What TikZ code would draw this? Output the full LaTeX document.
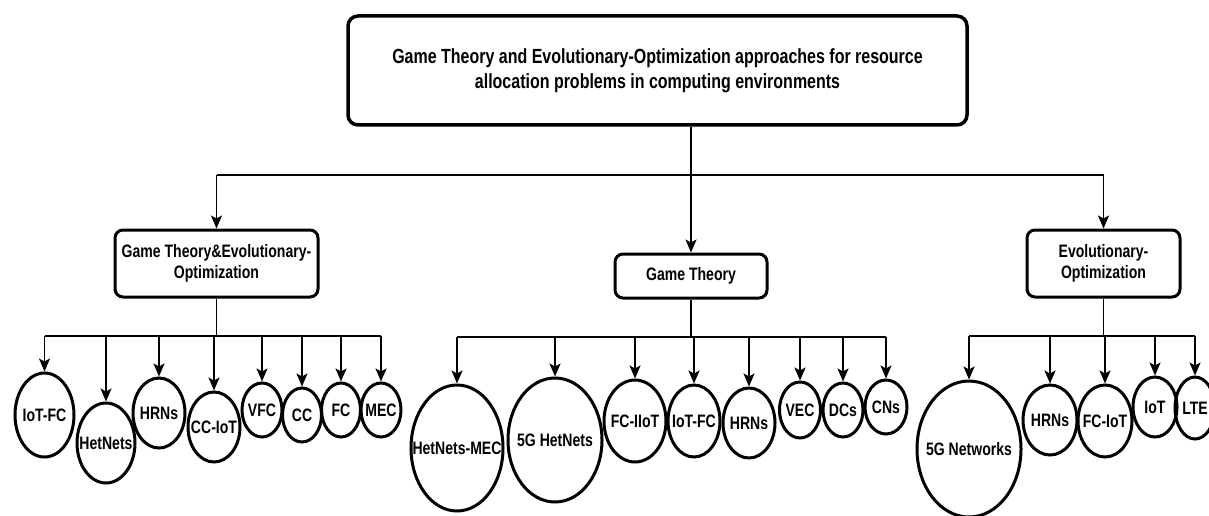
\documentclass[tikz,border=0pt]{standalone}
\usepackage{fontspec}
\setmainfont{Liberation Sans}[FakeStretch=0.78]
\usetikzlibrary{shapes.geometric,arrows.meta}

\tikzset{
    topbox/.style = {draw, rounded corners = 10pt, line width = 3.5pt, align = center,
        font = \fontsize{20.5}{25}\selectfont\bfseries},
    groupbox/.style = {draw, rounded corners = 8pt, line width = 3pt, align = center,
        font = \fontsize{18}{20.5}\selectfont\bfseries},
    leaf/.style = {draw, ellipse, line width = 3pt, inner sep = 0pt,
        font = \fontsize{18}{20}\selectfont\bfseries},
    link/.style = {line width = 1.8pt},
    down/.style = {link, -{Stealth[length = 13pt, width = 11pt, inset = 3pt]}}
}

\begin{document}
\begin{tikzpicture}[x = 1pt, y = -1pt]
        \useasboundingbox (0, 0) rectangle (1209, 516);

        \node[topbox, minimum width = 619pt, minimum height = 109pt] (root) at (657.5, 70.5)
            {Game Theory and Evolutionary-Optimization approaches for resource\\allocation problems in computing environments};

        \node[groupbox, minimum width = 203pt, minimum height = 67pt] (gtevo) at (216.5, 263.5) {Game Theory\&Evolutionary-\\Optimization};
        \node[groupbox, minimum width = 152pt, minimum height = 44pt] (gt) at (691, 276) {Game Theory};
        \node[groupbox, minimum width = 153pt, minimum height = 67pt] (evo) at (1103.5, 263.5) {Evolutionary-\\Optimization};

        % buses
        \coordinate (tbus) at (0, 175);
        \coordinate (lbus) at (0, 336);
        \coordinate (mbus) at (0, 337);
        \coordinate (rbus) at (0, 336);

        % leaves of the left group
        \node[leaf, minimum width = 59pt, minimum height = 84pt] (lIoTFC) at (44.5, 415) {\makebox[0pt]{IoT-FC}};
        \node[leaf, minimum width = 58pt, minimum height = 80pt] (lHetNets) at (106, 443) {\makebox[0pt]{HetNets}};
        \node[leaf, minimum width = 52pt, minimum height = 70pt] (lHRNs) at (159, 413) {\makebox[0pt]{HRNs}};
        \node[leaf, minimum width = 52pt, minimum height = 70pt] (lCCIoT) at (214, 427) {\makebox[0pt]{CC-IoT}};
        \node[leaf, minimum width = 40pt, minimum height = 54pt] (lVFC) at (262, 410) {\makebox[0pt]{VFC}};
        \node[leaf, minimum width = 39pt, minimum height = 54pt] (lCC) at (302, 415) {\makebox[0pt]{CC}};
        \node[leaf, minimum width = 39pt, minimum height = 54pt] (lFC) at (341, 410) {\makebox[0pt]{FC}};
        \node[leaf, minimum width = 40pt, minimum height = 54pt] (lMEC) at (381, 410) {\makebox[0pt]{MEC}};

        % leaves of the middle group
        \node[leaf, minimum width = 92pt, minimum height = 126pt] (mHetNetsMEC) at (457, 448) {\makebox[0pt]{HetNets-MEC}};
        \node[leaf, minimum width = 94pt, minimum height = 124pt] (m5GHetNets) at (555, 440) {\makebox[0pt]{5G HetNets}};
        \node[leaf, minimum width = 62pt, minimum height = 82pt] (mFCIIoT) at (635, 421) {\makebox[0pt]{FC-IIoT}};
        \node[leaf, minimum width = 52pt, minimum height = 72pt] (mIoTFC) at (694, 421) {\makebox[0pt]{IoT-FC}};
        \node[leaf, minimum width = 52pt, minimum height = 70pt] (mHRNs) at (749, 423) {\makebox[0pt]{HRNs}};
        \node[leaf, minimum width = 41pt, minimum height = 56pt] (mVEC) at (800, 410) {\makebox[0pt]{VEC}};
        \node[leaf, minimum width = 40pt, minimum height = 54pt] (mDCs) at (843, 410) {\makebox[0pt]{DCs}};
        \node[leaf, minimum width = 42pt, minimum height = 54pt] (mCNs) at (886, 407) {\makebox[0pt]{CNs}};

        % leaves of the right group
        \node[leaf, minimum width = 104pt, minimum height = 136pt] (r5GNetworks) at (969, 449) {\makebox[0pt]{5G Networks}};
        \node[leaf, minimum width = 54pt, minimum height = 70pt] (rHRNs) at (1050, 420) {\makebox[0pt]{HRNs}};
        \node[leaf, minimum width = 54pt, minimum height = 72pt] (rFCIoT) at (1105, 421) {\makebox[0pt]{FC-IoT}};
        \node[leaf, minimum width = 44pt, minimum height = 60pt] (rIoT) at (1155, 407) {\makebox[0pt]{IoT}};
        \node[leaf, minimum width = 40pt, minimum height = 62pt] (rLTE) at (1195, 408) {\makebox[0pt]{LTE}};

        % root to groups
        \draw[link] (root.south -| gt) -- (tbus -| gt);
        \draw[link] (tbus -| gtevo) -- (tbus -| evo);
        \draw[down] (tbus -| gtevo) -- (gtevo.north);
        \draw[down] (tbus -| gt) -- (gt.north);
        \draw[down] (tbus -| evo) -- (evo.north);

        % groups to leaves
        \draw[link] (gtevo.south) -- (gtevo.south |- lbus);
        \draw[link] (lbus -| lIoTFC) -- (lbus -| lMEC);
        \foreach \n in {lIoTFC, lHetNets, lHRNs, lCCIoT, lVFC, lCC, lFC, lMEC}
            \draw[down] (lbus -| \n.north) -- (\n.north);

        \draw[link] (gt.south) -- (gt.south |- mbus);
        \draw[link] (mbus -| mHetNetsMEC) -- (mbus -| mCNs);
        \foreach \n in {mHetNetsMEC, m5GHetNets, mFCIIoT, mIoTFC, mHRNs, mVEC, mDCs, mCNs}
            \draw[down] (mbus -| \n.north) -- (\n.north);

        \draw[link] (evo.south) -- (evo.south |- rbus);
        \draw[link] (rbus -| r5GNetworks) -- (rbus -| rLTE);
        \foreach \n in {r5GNetworks, rHRNs, rFCIoT, rIoT, rLTE}
            \draw[down] (rbus -| \n.north) -- (\n.north);
    \end{tikzpicture}
\end{document}
